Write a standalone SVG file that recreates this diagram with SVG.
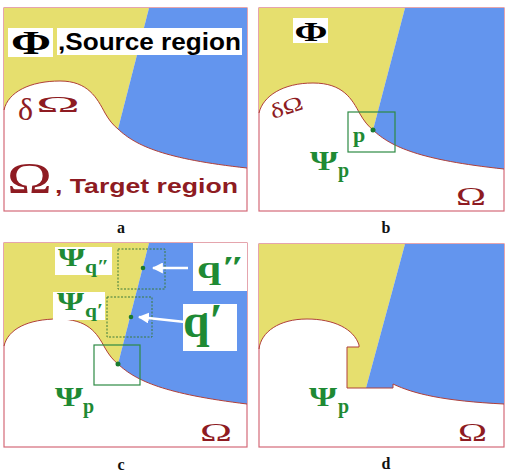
<svg xmlns="http://www.w3.org/2000/svg" width="506" height="472" viewBox="0 0 506 472">
<defs>
<style>
.frame{fill:#fff;stroke:#d46a78;stroke-width:1.2}
.yel{fill:#e6df6e}
.blu{fill:#6395ee}
.edge{fill:none;stroke:#b0403a;stroke-width:1}
.wbox{fill:#fff}
.serif{font-family:"Liberation Serif","DejaVu Serif",serif}
.b{font-weight:bold}
.sans{font-family:"Liberation Sans",Arial,sans-serif;font-weight:bold}
.grn{fill:#1f8a34}
.red{fill:#8e1b22}
.blk{fill:#000}
.sq{fill:none;stroke:#2e8a44;stroke-width:1.2}
.dsq{fill:none;stroke:#3a7a3a;stroke-width:1;stroke-dasharray:2,1.5}
.dot{fill:#1a7a30}
.arrow{stroke:#fff;stroke-width:2.5;fill:none}
.lbl{font-family:"Liberation Serif","DejaVu Serif",serif;font-weight:bold;font-size:16px;fill:#111;text-anchor:middle}
</style>
<marker id="ah" viewBox="0 0 10 10" refX="9" refY="5" markerWidth="4.4" markerHeight="4.4" orient="auto" markerUnits="strokeWidth">
<path d="M0,0 L10,5 L0,10 z" fill="#fff"/>
</marker>
</defs>

<!-- Panel a -->
<g id="panel-a" transform="translate(4,8)">
<rect class="frame" x="0" y="0" width="243" height="203"/>
<path class="yel" d="M0,0 L145,0 L114,121 C109,117 105,112 101,105 C93,90 84,73 56,73 C26,73 4,84 0,102 Z"/>
<path class="blu" d="M145,0 L243,0 L243,160 C161,151 132,138 114,121 Z"/>
<path class="edge" d="M0,102 C4,84 26,73 56,73 C84,73 93,90 101,105 C105,112 109,117 114,121 C132,138 161,151 243,160"/>
<rect class="wbox" x="4" y="20" width="45" height="29"/>
<text class="serif b blk" x="27" y="46" font-size="34" text-anchor="middle" textLength="40" lengthAdjust="spacingAndGlyphs">Φ</text>
<rect class="wbox" x="53" y="20" width="185" height="27"/>
<text class="sans blk" x="54" y="42" font-size="23" textLength="183" lengthAdjust="spacingAndGlyphs">,Source region</text>
<text class="serif red" x="14" y="112" font-size="32">δ</text>
<text class="serif red" x="32" y="104" font-size="24" textLength="44" lengthAdjust="spacingAndGlyphs">Ω</text>
<text class="serif red" x="3" y="185" font-size="45" textLength="45" lengthAdjust="spacingAndGlyphs">Ω</text>
<text class="sans red" x="51" y="185" font-size="21" textLength="183" lengthAdjust="spacingAndGlyphs">, Target region</text>
</g>
<text class="lbl" x="121" y="233">a</text>

<!-- Panel b -->
<g id="panel-b" transform="translate(259,8)">
<rect class="frame" x="0" y="0" width="245" height="203"/>
<path class="yel" d="M0,0 L146,0 L114,122 C109,118 105,113 101,106 C93,91 84,75 54,75 C24,75 4,88 0,105 Z"/>
<path class="blu" d="M146,0 L245,0 L245,161 C161,152 132,139 114,122 Z"/>
<path class="edge" d="M0,105 C4,88 24,75 54,75 C84,75 93,91 101,106 C105,113 109,118 114,122 C132,139 161,152 245,161"/>
<rect class="wbox" x="34" y="10" width="35" height="25"/>
<text class="serif b blk" x="52" y="33" font-size="28" text-anchor="middle" textLength="33" lengthAdjust="spacingAndGlyphs">Φ</text>
<text class="serif red" x="14" y="111" font-size="21" transform="rotate(-18 14 111)" textLength="33" lengthAdjust="spacingAndGlyphs">δΩ</text>
<rect class="sq" x="89" y="104" width="47" height="40"/>
<circle class="dot" cx="114" cy="122" r="2.5"/>
<text class="serif b grn" x="94" y="134" font-size="22">p</text>
<text class="serif b grn" x="51" y="162" font-size="27" textLength="28" lengthAdjust="spacingAndGlyphs">Ψ</text>
<text class="serif b grn" x="79" y="169" font-size="20">p</text>
<text class="serif red" x="197" y="197" font-size="26" textLength="30" lengthAdjust="spacingAndGlyphs">Ω</text>
</g>
<text class="lbl" x="386" y="233">b</text>

<!-- Panel c -->
<g id="panel-c" transform="translate(4,243)">
<rect class="frame" x="0" y="0" width="243" height="204"/>
<path class="yel" d="M0,0 L145,0 L114,121 C109,117 105,112 101,105 C93,90 84,76 54,76 C24,76 4,86 0,103 Z"/>
<path class="blu" d="M145,0 L243,0 L243,161 C161,151 132,138 114,121 Z"/>
<path class="edge" d="M0,103 C4,86 24,76 54,76 C84,76 93,90 101,105 C105,112 109,117 114,121 C132,138 161,151 243,161"/>
<rect class="wbox" x="189" y="0" width="54" height="48"/>
<rect class="wbox" x="179" y="61" width="54" height="47"/>
<rect class="wbox" x="51" y="4" width="57" height="28"/>
<rect class="wbox" x="49" y="49" width="52" height="28"/>
<rect class="sq" x="90" y="102" width="46" height="40"/>
<circle class="dot" cx="114" cy="121" r="2.5"/>
<rect class="dsq" x="114" y="6" width="47" height="40"/>
<circle class="dot" cx="139" cy="25" r="2.3"/>
<rect class="dsq" x="103" y="54" width="45" height="40"/>
<circle class="dot" cx="127" cy="74" r="2.3"/>
<text class="serif b grn" x="193" y="35" font-size="32" textLength="48" lengthAdjust="spacingAndGlyphs">q″</text>
<text class="serif b grn" x="179" y="94" font-size="48" textLength="40" lengthAdjust="spacingAndGlyphs">q′</text>
<text class="serif b grn" x="54" y="23" font-size="26" textLength="27" lengthAdjust="spacingAndGlyphs">Ψ</text>
<text class="serif b grn" x="81" y="30" font-size="18" textLength="24" lengthAdjust="spacingAndGlyphs">q″</text>
<text class="serif b grn" x="53" y="67" font-size="26" textLength="27" lengthAdjust="spacingAndGlyphs">Ψ</text>
<text class="serif b grn" x="81" y="74" font-size="18" textLength="18" lengthAdjust="spacingAndGlyphs">q′</text>
<text class="serif b grn" x="51" y="163" font-size="27" textLength="28" lengthAdjust="spacingAndGlyphs">Ψ</text>
<text class="serif b grn" x="79" y="170" font-size="20">p</text>
<text class="serif red" x="196" y="198" font-size="26" textLength="32" lengthAdjust="spacingAndGlyphs">Ω</text>
</g>
<text class="lbl" x="121" y="470">c</text>

<!-- Panel d -->
<g id="panel-d" transform="translate(259,244)">
<rect class="frame" x="0" y="0" width="245" height="203"/>
<path class="yel" d="M0,0 L146,0 L107,144 L88,144 L88,103 L100,103 L100,101 C95,85 75,75 48,75 C20,75 2,88 0,105 Z"/>
<path class="blu" d="M146,0 L245,0 L245,160 C185,157 155,150 134,140 L134,144 L107,144 Z"/>
<path class="edge" d="M0,105 C2,88 20,75 48,75 C75,75 95,85 100,101 L100,103 L88,103 L88,144 L134,144 L134,140 C155,150 185,157 245,160"/>
<text class="serif b grn" x="50" y="162" font-size="27" textLength="28" lengthAdjust="spacingAndGlyphs">Ψ</text>
<text class="serif b grn" x="79" y="169" font-size="20">p</text>
<text class="serif red" x="199" y="197" font-size="26" textLength="29" lengthAdjust="spacingAndGlyphs">Ω</text>
</g>
<text class="lbl" x="386" y="469">d</text>

<!-- Connectors -->
<g id="connectors" transform="translate(4,243)">
<line class="arrow" x1="184" y1="25" x2="149" y2="25" marker-end="url(#ah)"/>
<line class="arrow" x1="181" y1="79" x2="135" y2="74" marker-end="url(#ah)"/>
</g>
</svg>
